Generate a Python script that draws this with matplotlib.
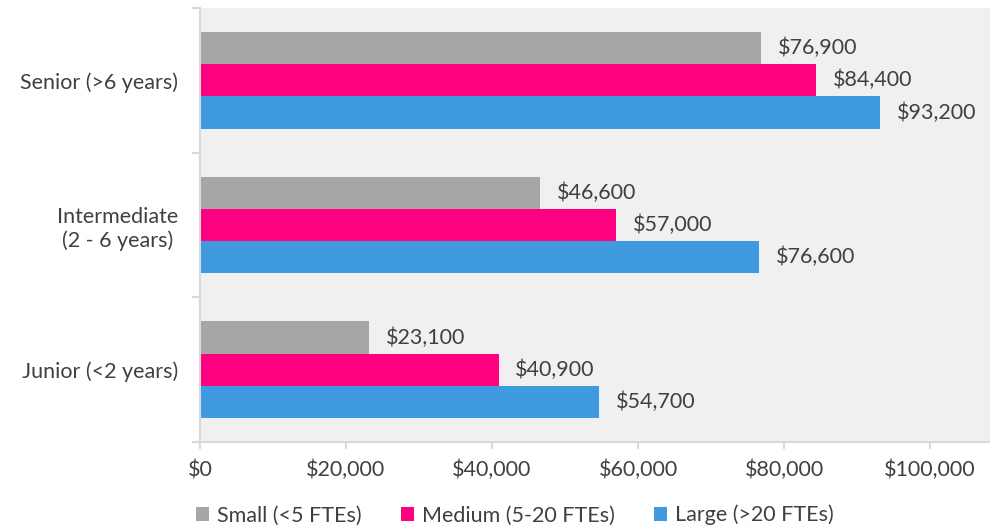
import matplotlib

matplotlib.use("Agg")
import matplotlib.pyplot as plt
from matplotlib.patches import Patch
import numpy as np

plt.rcParams["font.family"] = ["Lato", "DejaVu Sans"]

categories = ["Junior (<2 years)", "Intermediate\n(2 - 6 years)", "Senior (>6 years)"]
series_names = ["Small (<5 FTEs)", "Medium (5-20 FTEs)", "Large (>20 FTEs)"]
small = [23100, 46600, 76900]
medium = [40900, 57000, 84400]
large = [54700, 76600, 93200]
x_ticks = [0, 20000, 40000, 60000, 80000, 100000]

colors = ["#a6a6a6", "#ff0080", "#3f9ae0"]
text_color = "#404040"
axis_color = "#d9d9d9"
font_size = 15.5

fig = plt.figure(figsize=(9.9, 5.31), dpi=100, facecolor="white")
ax = fig.add_axes([200 / 990, 1 - 442 / 531, 790 / 990, 434 / 531])
ax.set_facecolor("#f0f0f0")

y = np.arange(len(categories))
height = 0.222
offsets = [height, 0, -height]
for values, color, offset, name in zip([small, medium, large], colors, offsets, series_names):
    bars = ax.barh(y + offset, values, height=height, color=color, label=name)
    for bar, value in zip(bars, values):
        ax.text(
            value + 2300,
            bar.get_y() + bar.get_height() / 2,
            f"${value:,.0f}",
            va="center",
            ha="left",
            fontsize=font_size,
            color=text_color,
        )

ax.set_xlim(0, 108200)
ax.set_ylim(-0.5, len(categories) - 0.5)

ax.set_xticks(x_ticks)
ax.set_xticklabels([f"${t:,.0f}" for t in x_ticks])
ax.tick_params(axis="x", length=5, width=1.5, color=axis_color, pad=8,
               labelsize=font_size, labelcolor=text_color)

ax.set_yticks(np.arange(len(categories) + 1) - 0.5)
ax.set_yticklabels([])
ax.tick_params(axis="y", which="major", length=6, width=1.5, color=axis_color)
ax.set_yticks(y, minor=True)
ax.set_yticklabels(categories, minor=True, ha="right", multialignment="center")
ax.tick_params(axis="y", which="minor", length=0, pad=16,
               labelsize=font_size, labelcolor=text_color)

for side in ["top", "right"]:
    ax.spines[side].set_visible(False)
for side in ["left", "bottom"]:
    ax.spines[side].set_color(axis_color)
    ax.spines[side].set_linewidth(1.5)

handles = [Patch(facecolor=c, label=n) for c, n in zip(colors, series_names)]
fig.legend(
    handles=handles,
    loc="center",
    bbox_to_anchor=(0.52, 0.03),
    ncol=3,
    frameon=False,
    fontsize=font_size,
    labelcolor=text_color,
    handlelength=0.6,
    handleheight=0.6,
    handletextpad=0.35,
    columnspacing=1.85,
)

fig.savefig("out.png", dpi=100)
plt.close(fig)
